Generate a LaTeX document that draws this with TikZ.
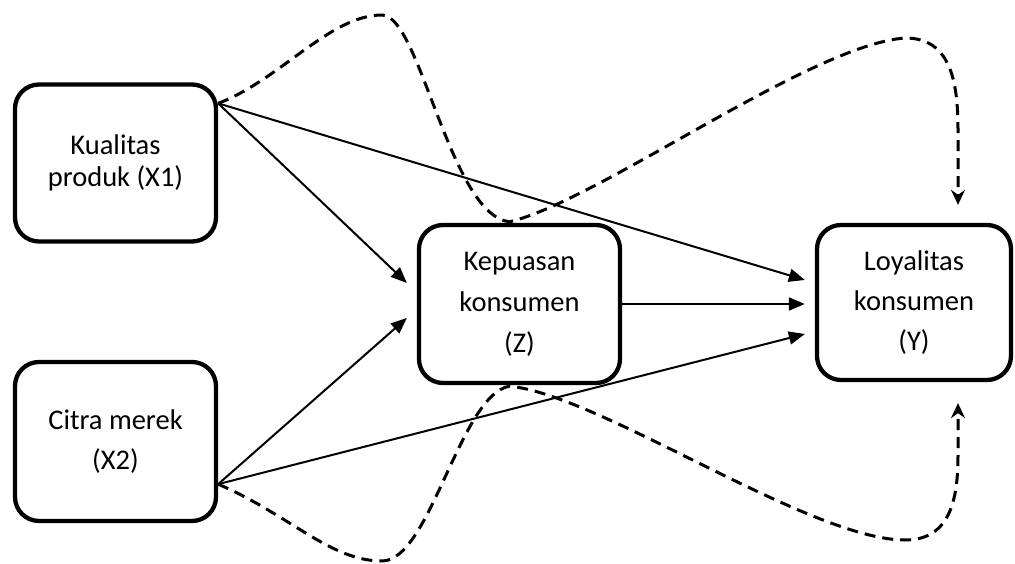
\documentclass[tikz,border=0pt]{standalone}
\usepackage{fontspec}
\setmainfont{Carlito}
\usetikzlibrary{arrows.meta,calc}
\begin{document}
\begin{tikzpicture}[x=1pt,y=-1pt,
  box/.style={draw, line width=4.3pt, rounded corners=24pt, minimum width=201pt, minimum height=157pt, align=center, inner sep=0pt, fill=white},
  solidarrow/.style={line width=2pt, -{Triangle[length=16pt,width=13pt]}},
  dasharrow/.style={line width=3pt, dash pattern=on 11pt off 7pt, -{Stealth[length=15pt,width=14pt,inset=5pt]}}]
\useasboundingbox (0,0) rectangle (1015,564);

\node[box, font=\fontsize{28.5}{32}\selectfont] (X1) at (115.5,163) {Kualitas\\produk (X1)};
\node[box, minimum height=159pt, font=\fontsize{28.5}{40}\selectfont] (X2) at (115.5,441.5) {Citra merek\\(X2)};
\node[box, minimum height=158pt, font=\fontsize{28.5}{41}\selectfont] (Z) at (519.5,304) {Kepuasan\\konsumen\\(Z)};
\node[box, minimum width=194pt, minimum height=155pt, font=\fontsize{28.5}{40}\selectfont] (Y) at (914,302.5) {Loyalitas\\konsumen\\(Y)};

\coordinate (x1o) at ($(X1.north east)+(0,21)$);
\coordinate (x2o) at ($(X2.south east)+(0,-39)$);
\coordinate (zin1) at ($(Z.west)+(-10,-21)$);
\coordinate (zin2) at ($(Z.west)+(-10,14)$);
\coordinate (yin1) at ($(Y.west)+(-10,-22.5)$);
\coordinate (yin2) at ($(Z.east -| Y.west)+(-10,0)$);
\coordinate (yin3) at ($(Y.west)+(-10,31.5)$);
\coordinate (zt) at ($(Z.north)+(-10,-1)$);
\coordinate (zb) at ($(Z.south)+(-10,1)$);
\coordinate (ytop) at ($(Y.north)+(44,-18)$);
\coordinate (ybot) at ($(Y.south)+(44,21)$);

\draw[solidarrow] (x1o) -- (zin1);
\draw[solidarrow] (x2o) -- (zin2);
\draw[solidarrow] (x1o) -- (yin1);
\draw[solidarrow] (Z.east) -- (yin2);
\draw[solidarrow] (x2o) -- (yin3);

\draw[dasharrow] (x1o) .. controls (280,80) and (330,15) .. (382,15)
  .. controls (420,15) and (450,215) .. (zt)
  .. controls (600,200) and (810,45) .. (905,38)
  .. controls (950,38) and (958,80) .. (958,130) -- (ytop);
\draw[dasharrow] (x2o) .. controls (290,515) and (330,561) .. (382,561)
  .. controls (430,561) and (460,395) .. (zb)
  .. controls (600,395) and (810,540) .. (905,540)
  .. controls (950,540) and (958,500) .. (958,455) -- (ybot);
\end{tikzpicture}
\end{document}
